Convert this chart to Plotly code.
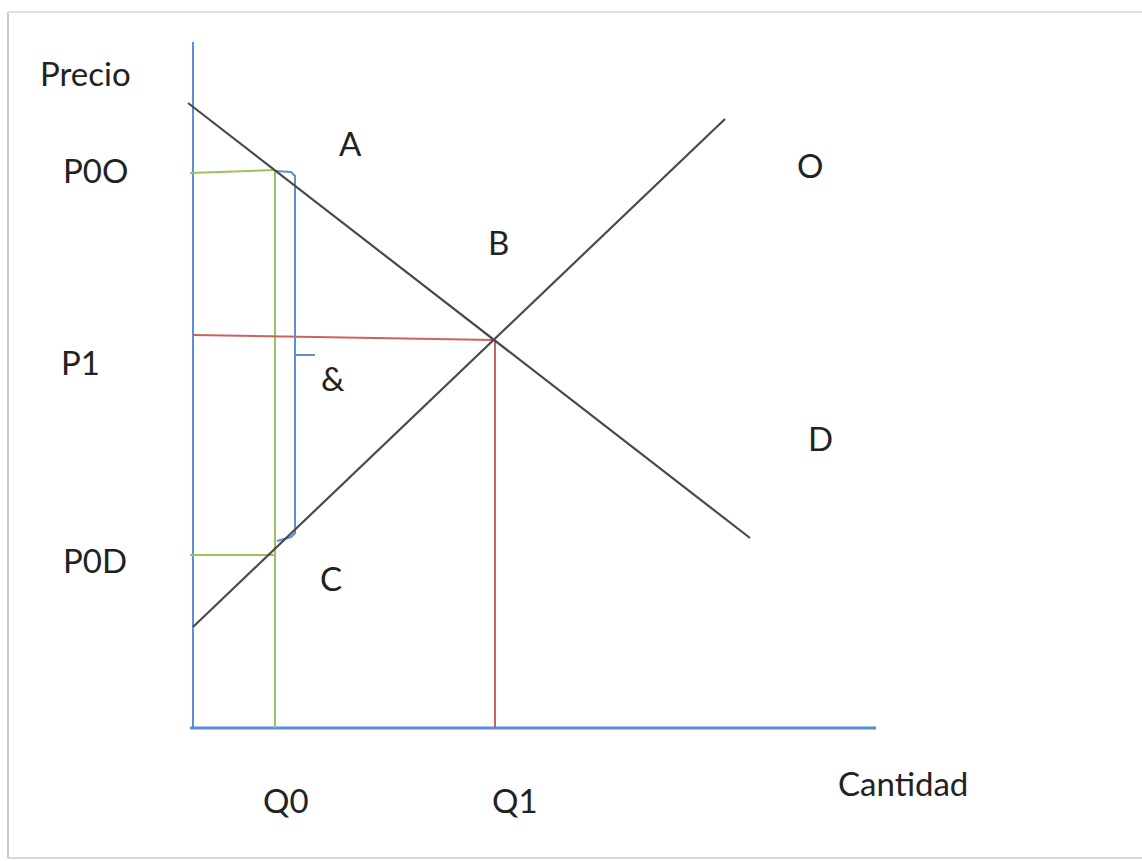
import plotly.graph_objects as go

# curvas (cantidad, precio)
demanda_q = [-0.5, 55.7]
demanda_p = [62.5, 19.0]
oferta_q = [0.0, 53.2]
oferta_p = [10.1, 60.9]

# puntos clave
Q0 = 8.2
Q1 = 30.2
P0O = 55.8
P1 = 38.8
P0D = 17.3
P1_eje = 39.3   # la linea roja sale un poco inclinada desde el eje

eje_x_fin = 68.3
eje_y_fin = 68.6

W, H = 1142, 861
X0, Y0, S = 193, 728, 10   # origen en pixeles y escala


def px(x):
    return (x - X0) / S


def py(y):
    return (Y0 - y) / S


azul = "#5b8fd6"
verde = "#9bc35a"
rojo = "#d0605c"
negro = "#4a4a4a"

fig = go.Figure()

# ejes
fig.add_trace(go.Scatter(x=[0, 0], y=[0, eje_y_fin], mode="lines",
                         line=dict(color=azul, width=2)))
fig.add_trace(go.Scatter(x=[-0.3, eje_x_fin], y=[0, 0], mode="lines",
                         line=dict(color=azul, width=3)))

# guias verdes (Q0)
fig.add_trace(go.Scatter(x=[-0.3, Q0], y=[P0O - 0.3, P0O], mode="lines",
                         line=dict(color=verde, width=2)))
fig.add_trace(go.Scatter(x=[Q0, Q0], y=[P0O, 0], mode="lines",
                         line=dict(color=verde, width=2)))
fig.add_trace(go.Scatter(x=[-0.3, Q0], y=[P0D, P0D], mode="lines",
                         line=dict(color=verde, width=2)))

# guias rojas (equilibrio)
fig.add_trace(go.Scatter(x=[0, Q1], y=[P1_eje, P1], mode="lines",
                         line=dict(color=rojo, width=2)))
fig.add_trace(go.Scatter(x=[Q1, Q1], y=[P1, 0], mode="lines",
                         line=dict(color=rojo, width=2)))

# llave azul entre P0O y P0D
bx = Q0 + 2.0
fig.add_trace(go.Scatter(
    x=[Q0, bx - 0.4, bx, bx, bx + 2.0, bx, bx, bx - 0.4, Q0 + 0.2],
    y=[P0O - 0.1, P0O - 0.2, P0O - 0.6, P1 - 1.5, P1 - 1.5, P1 - 1.5, P0D + 2.2, P0D + 1.8, P0D + 1.4],
    mode="lines", line=dict(color=azul, width=2)))

# demanda y oferta
fig.add_trace(go.Scatter(x=demanda_q, y=demanda_p, mode="lines",
                         line=dict(color=negro, width=2.2)))
fig.add_trace(go.Scatter(x=oferta_q, y=oferta_p, mode="lines",
                         line=dict(color=negro, width=2.2)))

etiquetas = [
    ("Precio", 85, 73),
    ("P0O", 95, 170),
    ("P1", 80, 362),
    ("P0D", 95, 560),
    ("A", 350, 143),
    ("B", 498, 242),
    ("O", 810, 165),
    ("&", 333, 378),
    ("D", 820, 438),
    ("C", 331, 578),
    ("Q0", 286, 800),
    ("Q1", 515, 800),
    ("Cantidad", 903, 783),
]
for txt, ex, ey in etiquetas:
    fig.add_annotation(x=px(ex), y=py(ey), text=txt, showarrow=False,
                       xanchor="center", yanchor="middle",
                       font=dict(family="Lato", size=33, color="#222222"))

# marco de la imagen
fig.add_shape(type="line", xref="paper", yref="paper",
              x0=8 / W, x1=8 / W, y0=1 - 12 / H, y1=1 - 858 / H,
              line=dict(color="#c8c8c8", width=2))
fig.add_shape(type="line", xref="paper", yref="paper",
              x0=8 / W, x1=1, y0=1 - 12 / H, y1=1 - 12 / H,
              line=dict(color="#e0e0e0", width=2))
fig.add_shape(type="line", xref="paper", yref="paper",
              x0=8 / W, x1=1, y0=1 - 858 / H, y1=1 - 858 / H,
              line=dict(color="#d8d8d8", width=2))

fig.update_layout(
    width=W, height=H,
    margin=dict(l=0, r=0, t=0, b=0),
    showlegend=False,
    hovermode=False,
    plot_bgcolor="white", paper_bgcolor="white",
    xaxis=dict(range=[px(0), px(W)], visible=False, fixedrange=True),
    yaxis=dict(range=[py(H), py(0)], visible=False, fixedrange=True),
)

# sin margen en la pagina para que la figura ocupe la ventana
fig.write_html("out.html", config={"displayModeBar": False},
               post_script="document.body.style.margin='0';document.body.style.overflow='hidden';")
